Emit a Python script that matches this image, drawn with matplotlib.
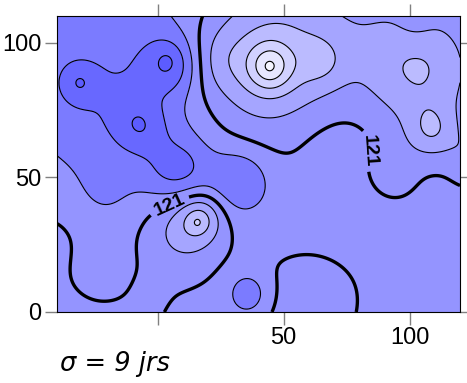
import numpy as np
import matplotlib
matplotlib.use('Agg')
import matplotlib.pyplot as plt

# smoothed field: base level plus highs / lows (x, y in map units)
base_level = 114.9
bump_x = [-18.8, -31.3, 5.4, -7.0, 8.1, 32.6, 35.8, -23.6, -21.3, -22.4, 109.6, 88.0, 44.5, 44.4, 65.2, 104.0,
          108.9, 10.9, 17.2, 61.7, -39.6, -3.5, 92.0, 126.6, 68.4, 102.1, 52.4, 23.7, 44.4, 15.7, 3.4, 9.3, -44.0]
bump_y = [81.6, 85.3, 92.2, 69.1, 52.2, 48.6, 6.6, 16.6, 42.8, 104.4, 21.3, 94.3, 93.4, 91.2, 93.1, 89.5,
          67.1, 31.2, 35.4, 0.7, -1.9, 8.4, 52.6, 56.9, 69.1, 106.1, 51.5, 93.5, 91.2, 33.2, 93.3, 55.2, 24.0]
bump_height = [-11.0, -8.3, -13.1, -9.5, -12.3, -11.2, -11.0, -4.7, -3.8, 2.5, 3.8, 8.9, 19.6, 17.5, 6.3, 13.0,
               11.5, 12.1, 12.3, 7.3, 8.1, 0.9, 5.2, 9.5, -5.7, -3.3, 1.5, 5.2, 2.5, 4.0, -2.0, -2.5, 3.0]
bump_width = [25.3, 5.0, 7.6, 7.0, 9.1, 8.5, 5.7, 8.2, 9.2, 11.8, 15.5, 36.5, 20.5, 6.1, 6.6, 15.2,
              6.9, 10.2, 5.9, 19.4, 52.7, 5.0, 8.1, 7.3, 19.1, 5.7, 10.0, 8.4, 1.8, 2.0, 2.5, 2.2, 7.0]

fill_levels = [80, 100, 107, 114, 128, 135, 142, 149, 156, 170]
fill_colors = ['#5c5cff', '#6868ff', '#7b7bff', '#9494ff', '#a5a5ff', '#bbbbff', '#d1d1ff', '#e6e6ff', '#f5f5ff']
line_levels = [100, 107, 114, 128, 135, 142, 149, 156]
key_level = 121

plt.rcParams['font.family'] = 'Liberation Sans'

xx, yy = np.meshgrid(np.linspace(-40, 120, 401), np.linspace(0, 110, 276))
zz = np.full_like(xx, base_level)
for bx, by, bh, bw in zip(bump_x, bump_y, bump_height, bump_width):
    zz += bh * np.exp(-((xx - bx) ** 2 + (yy - by) ** 2) / (2 * bw ** 2))

fig = plt.figure(figsize=(4.67, 3.83), dpi=100)
ax = fig.add_axes([57 / 467, 71 / 383, 403 / 467, 296 / 383])

ax.contourf(xx, yy, zz, levels=fill_levels, colors=fill_colors, extend='both')
ax.contour(xx, yy, zz, levels=line_levels, colors='black', linewidths=0.8)
cs = ax.contour(xx, yy, zz, levels=[key_level], colors='black', linewidths=2.4)
labels = ax.clabel(cs, fmt='%d', fontsize=14, manual=[(84, 60), (4, 41)], inline=True)
for t in labels:
    t.set_fontweight('bold')

ax.set_xlim(-40, 120)
ax.set_ylim(0, 110)
ax.set_xticks([0, 50, 100])
ax.set_xticklabels(['', '50', '100'])
ax.set_yticks([0, 50, 100])
ax.tick_params(direction='out', length=9, width=1, color='#808080',
               top=True, right=True, labelsize=17, pad=2)

fig.text(60 / 467, 1 - 371 / 383, '\u03c3 = 9 jrs', fontsize=18.5, style='italic',
         family='DejaVu Sans', va='baseline')

fig.savefig('out.png')
